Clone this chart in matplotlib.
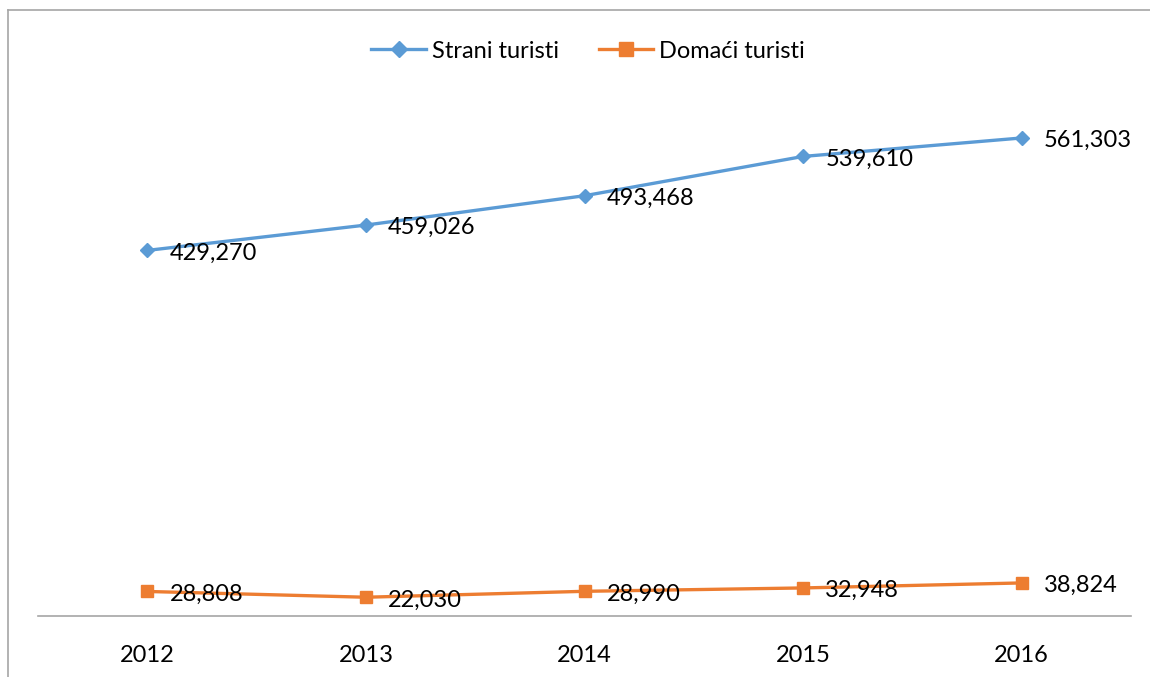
import matplotlib.pyplot as plt
from matplotlib.lines import Line2D

plt.rcParams['font.family'] = ['Lato', 'DejaVu Sans']

# data
years = ['2012', '2013', '2014', '2015', '2016']
strani = [429270, 459026, 493468, 539610, 561303]
domaci = [28808, 22030, 28990, 32948, 38824]

fig = plt.figure(figsize=(11.5, 6.77), dpi=100)
W, H = 1150, 677
# axes box in pixels: x 38..1131, y 105..616
ax = fig.add_axes([38 / W, 1 - 616 / H, (1131 - 38) / W, (616 - 105) / H])

x = list(range(len(years)))
ax.plot(x, strani, color='#5B9BD5', lw=2.4, marker='D', ms=7,
        label='Strani turisti')
ax.plot(x, domaci, color='#ED7D31', lw=2.4, marker='s', ms=8,
        label='Domaći turisti')

for xi, v in zip(x, strani):
    ax.annotate(f'{v:,}', (xi, v), xytext=(16, -2), textcoords='offset points',
                ha='left', va='center', fontsize=17, color='black')
for xi, v in zip(x, domaci):
    ax.annotate(f'{v:,}', (xi, v), xytext=(16, -2), textcoords='offset points',
                ha='left', va='center', fontsize=17, color='black')

ax.set_xlim(-0.5, len(years) - 0.5)
ax.set_ylim(0, 600000)
ax.set_xticks(x)
ax.set_xticklabels(years, fontsize=17)
ax.set_yticks([])
ax.tick_params(axis='x', length=0, pad=21)
for s in ['top', 'right', 'left']:
    ax.spines[s].set_visible(False)
ax.spines['bottom'].set_color('#A6A6A6')
ax.spines['bottom'].set_linewidth(1.2)

fig.legend(loc='center', bbox_to_anchor=(588 / W, 1 - 51 / H), ncol=2,
           frameon=False, fontsize=17, handlelength=2.3, columnspacing=1.7,
           handletextpad=0.25, markerscale=1.2)

# outer border (left and top visible)
fig.add_artist(Line2D([8 / W, 8 / W], [0, 1 - 10 / H], color='#A6A6A6', lw=1.2,
                      transform=fig.transFigure))
fig.add_artist(Line2D([8 / W, 1], [1 - 10 / H, 1 - 10 / H], color='#A6A6A6', lw=1.2,
                      transform=fig.transFigure))

fig.savefig('out.png', dpi=100)
